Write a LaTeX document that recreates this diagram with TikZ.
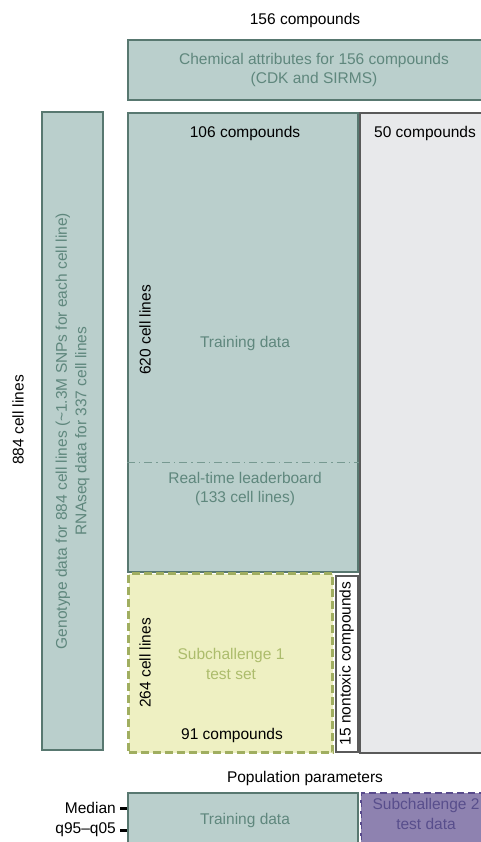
\documentclass[tikz,border=0pt]{standalone}
\usepackage{fontspec}
\setmainfont{Liberation Sans}
\definecolor{tealfill}{RGB}{186,207,204}
\definecolor{tealline}{RGB}{88,120,112}
\definecolor{tealtext}{RGB}{95,135,125}
\definecolor{greyfill}{RGB}{232,233,235}
\definecolor{greyline}{RGB}{90,90,90}
\definecolor{limefill}{RGB}{238,240,194}
\definecolor{limeline}{RGB}{160,174,96}
\definecolor{limetext}{RGB}{172,188,108}
\definecolor{violetfill}{RGB}{142,130,176}
\definecolor{violetline}{RGB}{88,74,140}
\definecolor{violettext}{RGB}{88,78,140}

\begin{document}
\begin{tikzpicture}[x=1pt, y=-1pt,
  font=\fontsize{15.5}{19.5}\selectfont,
  box/.style={rectangle, inner sep=0pt, line width=2.5pt, align=center},
  tealbox/.style={box, draw=tealline, fill=tealfill, text=tealtext},
  label text/.style={inner sep=0pt, text=black},
  tick/.style={line width=3pt}]

\useasboundingbox (0,0) rectangle (481,842);
\clip (0,0) rectangle (481,842);

% top row
\node[label text] (top) at (305,20) {156 compounds};
\node[tealbox, minimum width=372pt, minimum height=60pt] (chem) at (314,70)
     {Chemical attributes for 156 compounds\\(CDK and SIRMS)};

% left column
\node[label text, rotate=90] (lines) at (18,420) {884 cell lines};
\node[tealbox, minimum width=61pt, minimum height=638pt] (geno) at (72.5,431) {};
\node[inner sep=0pt, text=tealtext, rotate=90, align=center] (genotext) at (geno)
     {Genotype data for 884 cell lines (\textasciitilde1.3M SNPs for each cell line)\\
      RNAseq data for 337 cell lines};

% compound by cell line grid
\node[box, draw=greyline, fill=greyfill, line width=2pt,
      minimum width=140pt, minimum height=640pt] (novel) at (430,433) {};
\node[tealbox, minimum width=230pt, minimum height=459pt] (train) at (243,342.5) {};
\node[label text, anchor=west] (fifty) at (374,133) {50 compounds};
\node[label text] (known) at (245,133) {106 compounds};
\node[inner sep=0pt, text=tealtext] (traintext) at (245,343) {Training data};
\node[label text, rotate=90] (rows) at (145,330) {620 cell lines};

\coordinate (split) at (243,462);
\draw[tealtext!85!white, line width=1pt,
      dash pattern=on 8pt off 4pt on 1.5pt off 4pt] (train.west |- split) -- (train.east |- split);
\node[inner sep=0pt, text=tealtext, align=center] (board) at (245,489)
     {Real-time leaderboard\\(133 cell lines)};

\node[box, draw=limeline, fill=limefill, text=limetext, dash pattern=on 8pt off 4pt,
      minimum width=204pt, minimum height=179pt] (sub1) at (230.5,663) {};
\node[inner sep=0pt, text=limetext, align=center] (subtext) at (231,664)
     {Subchallenge 1\\test set};
\node[label text] (ninety) at (232,735) {91 compounds};
\node[label text, rotate=90] (testrows) at (145,663) {264 cell lines};

\node[box, draw=greyline, fill=white, line width=2pt,
      minimum width=22pt, minimum height=176pt] (nontox) at (346.5,663.5) {};
\node[label text, rotate=90] (nontoxtext) at (nontox) {15 nontoxic compounds};

% population parameters
\node[label text] (pop) at (305,778) {Population parameters};
\node[tealbox, minimum width=230pt, minimum height=70pt] (train2) at (243,828)
     {};
\node[inner sep=0pt, text=tealtext] (train2text) at (245,820) {Training data};
\node[box, draw=violetline, fill=violetfill, line width=2pt, dash pattern=on 7pt off 4pt,
      minimum width=132pt, minimum height=70pt] (sub2) at (427,828) {};
\draw[white, line width=2pt, dash pattern=on 7pt off 4pt] (sub2.north west) -- (sub2.south west);
\node[inner sep=0pt, text=violettext, align=center] (sub2text) at (426,814)
     {Subchallenge 2\\test data};

\node[label text, anchor=east] (median) at (116,808) {Median};
\node[label text, anchor=east] (spread) at (116,830) {q95--q05};
\draw[tick] (median.east) ++(4,0) -- (train2.west |- median);
\draw[tick] (spread.east) ++(4,0) -- (train2.west |- spread);

\end{tikzpicture}
\end{document}
